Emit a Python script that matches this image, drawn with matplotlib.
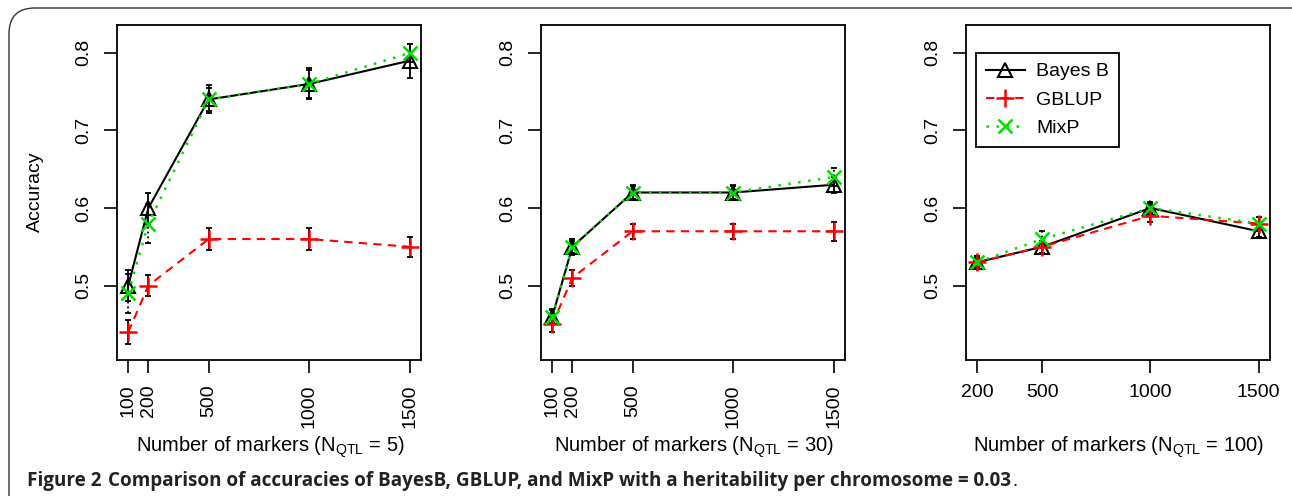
import matplotlib.pyplot as plt
from matplotlib.patches import FancyBboxPatch

plt.rcParams['font.family'] = ['Liberation Sans', 'DejaVu Sans']
plt.rcParams['mathtext.fontset'] = 'custom'
plt.rcParams['mathtext.rm'] = 'Liberation Sans'

# data
markers_a = [100, 200, 500, 1000, 1500]
markers_c = [200, 500, 1000, 1500]
n_qtl = [5, 30, 100]

bayesb = [[0.50, 0.60, 0.74, 0.76, 0.79],
          [0.46, 0.55, 0.62, 0.62, 0.63],
          [0.53, 0.55, 0.60, 0.57]]
bayesb_err = [[0.020, 0.020, 0.018, 0.020, 0.022],
              [0.010, 0.010, 0.010, 0.010, 0.010],
              [0.008, 0.008, 0.008, 0.008]]
gblup = [[0.44, 0.50, 0.56, 0.56, 0.55],
         [0.45, 0.51, 0.57, 0.57, 0.57],
         [0.53, 0.55, 0.59, 0.58]]
gblup_err = [[0.015, 0.014, 0.014, 0.014, 0.013],
             [0.010, 0.010, 0.010, 0.010, 0.012],
             [0.008, 0.008, 0.008, 0.008]]
mixp = [[0.49, 0.58, 0.74, 0.76, 0.80],
        [0.46, 0.55, 0.62, 0.62, 0.64],
        [0.53, 0.56, 0.60, 0.58]]
mixp_err = [[0.025, 0.025, 0.015, 0.018, 0.012],
            [0.008, 0.008, 0.008, 0.008, 0.012],
            [0.006, 0.010, 0.006, 0.008]]

fig = plt.figure(figsize=(12.92, 4.96), dpi=100)

# rounded frame around the figure
frame = FancyBboxPatch((9 / 1292, -0.2), 1.2, 1.2 - 8 / 496,
                       boxstyle="round,pad=0,rounding_size=0.02",
                       transform=fig.transFigure, fill=False,
                       edgecolor='#333333', linewidth=1.0, mutation_aspect=2.6)
fig.patches.append(frame)

lefts = [117, 541, 966]
for i in range(3):
    ax = fig.add_axes([lefts[i] / 1292, 1 - 360 / 496, 304 / 1292, 335 / 496])
    x = markers_a if i < 2 else markers_c
    ax.errorbar(x, bayesb[i], yerr=bayesb_err[i], fmt='none', ecolor='black',
                elinewidth=1.3, capsize=2.2, capthick=1.3)
    ax.errorbar(x, gblup[i], yerr=gblup_err[i], fmt='none', ecolor='black',
                elinewidth=1.3, capsize=2.2, capthick=1.3)
    eb = ax.errorbar(x, mixp[i], yerr=mixp_err[i], fmt='none', ecolor='black',
                     elinewidth=1.3, capsize=2.2, capthick=1.3)
    eb[2][0].set_linestyle(':')
    ax.plot(x, bayesb[i], color='black', lw=1.5, marker='^', ms=10,
            mfc='none', mec='black', mew=1.5, label='Bayes B')
    ax.plot(x, gblup[i], color='red', lw=1.5, ls=(0, (4, 3)), marker='+', ms=13,
            mew=1.8, label='GBLUP')
    ax.plot(x, mixp[i], color='#00dd00', lw=1.8, ls=(0, (1, 3)), marker='x', ms=10,
            mew=1.8, label='MixP')

    ax.set_ylim(0.404, 0.836)
    ax.set_yticks([0.5, 0.6, 0.7, 0.8])
    ax.set_yticklabels(['0.5', '0.6', '0.7', '0.8'], rotation=90, va='center')
    if i < 2:
        ax.set_xlim(44, 1556)
        ax.set_xticks(markers_a)
        ax.set_xticklabels([str(m) for m in markers_a], rotation=90)
    else:
        ax.set_xlim(148, 1552)
        ax.set_xticks(markers_c)
        ax.set_xticklabels([str(m) for m in markers_c])
    ax.tick_params(labelsize=14, length=9.5, width=1.2, pad=8)
    for s in ax.spines.values():
        s.set_linewidth(1.3)
    # x label on the same line for all three panels
    fig.text((lefts[i] + 153) / 1292, 1 - 452 / 496,
             r'Number of markers (N$_\mathregular{QTL}$ = %d)' % n_qtl[i],
             fontsize=14.5, ha='center', va='baseline')
    if i == 0:
        fig.text(35 / 1292, 1 - 192 / 496, 'Accuracy', fontsize=14, rotation=90,
                 ha='center', va='center')
    if i == 2:
        leg = ax.legend(loc='upper left', bbox_to_anchor=(0.033, 0.916), fontsize=14,
                        fancybox=False, edgecolor='black', framealpha=1,
                        handlelength=2.0, borderpad=0.5, labelspacing=0.55,
                        handletextpad=0.6, borderaxespad=0)
        leg.get_frame().set_linewidth(1.3)

# caption: bold part then a regular full stop
cap_font = ['Open Sans', 'DejaVu Sans']
cap_y = 1 - 486 / 496
t1 = fig.text(27 / 1292, cap_y, 'Figure 2', fontsize=13.6, fontweight='bold',
              family=cap_font, va='baseline', color='#222222')
fig.canvas.draw()
bb = t1.get_window_extent()
t2 = fig.text((bb.x1 + 7) / 1292, cap_y,
              'Comparison of accuracies of BayesB, GBLUP, and MixP with a heritability per chromosome = 0.03',
              fontsize=13.6, fontweight='bold', family=cap_font, va='baseline', color='#222222')
fig.canvas.draw()
bb = t2.get_window_extent()
fig.text((bb.x1 + 1) / 1292, cap_y, '.', fontsize=13.6, family=cap_font,
         va='baseline', color='#222222')
fig.savefig('out.png', dpi=100)
